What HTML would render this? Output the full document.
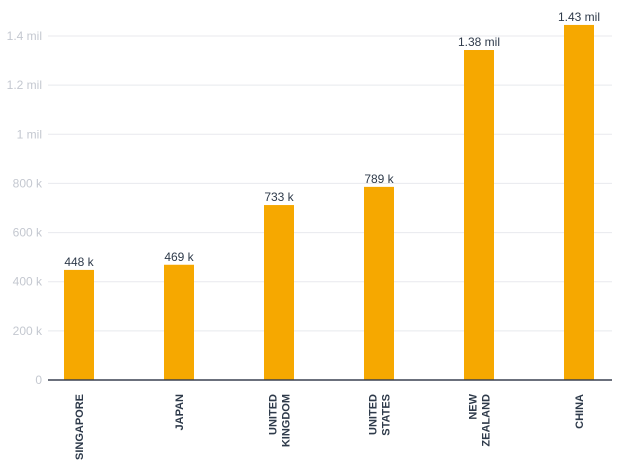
<!DOCTYPE html>
<html><head><meta charset="utf-8"><style>
html,body{margin:0;padding:0;background:#fff;}
svg{display:block;font-family:"Liberation Sans",sans-serif;}
</style></head><body>
<svg id="chart" width="625" height="468"></svg>
<script>
const categories = [["SINGAPORE"],["JAPAN"],["UNITED","KINGDOM"],["UNITED","STATES"],["NEW","ZEALAND"],["CHINA"]];
const values = [448000, 469000, 712000, 786000, 1343000, 1445000];
const valueLabels = ["448 k","469 k","733 k","789 k","1.38 mil","1.43 mil"];
const tickValues = [0,200000,400000,600000,800000,1000000,1200000,1400000];
const tickLabels = ["0","200 k","400 k","600 k","800 k","1 mil","1.2 mil","1.4 mil"];

const NS="http://www.w3.org/2000/svg";
const svg=document.getElementById('chart');
const y0=380, pxPer=344/1400000;
function yScale(v){return y0 - v*pxPer;}
function xScale(i){return 79 + i*100;}
function mk(tag,attrs,parent){const e=document.createElementNS(NS,tag);for(const k in attrs)e.setAttribute(k,attrs[k]);(parent||svg).appendChild(e);return e;}

tickValues.forEach((t,i)=>{
  const y=yScale(t);
  if(t>0){
    const g=mk('line',{x1:48,x2:612,y1:y,y2:y,stroke:'#e8e9ee','stroke-width':1});
    
    
  }
  const tx=mk('text',{x:42,y:y+4,'text-anchor':'end','font-size':12,fill:'#c4c8d0'});
  tx.textContent=tickLabels[i];
  
  
});

values.forEach((v,i)=>{
  const cx=xScale(i), y=yScale(v);
  const r=mk('rect',{x:cx-15,y:y,width:30,height:y0-y,fill:'#f6a800'});
  
  
  const t=mk('text',{x:cx,y:y-4,'text-anchor':'middle','font-size':12,fill:'#2e3a4a'});
  t.textContent=valueLabels[i];
  
  
  const lines=categories[i];
  lines.forEach((ln,j)=>{
    const off=(j-(lines.length-1)/2)*13;
    const lx=cx+off+4;
    const c=mk('text',{x:lx,y:394,'text-anchor':'end','font-size':11,'font-weight':'bold',fill:'#2e3a4a',transform:`rotate(-90 ${lx} 394)`});
    c.textContent=ln;
    
    
  });
});

const ax=mk('line',{x1:48,x2:612,y1:y0,y2:y0,stroke:'#3a4150','stroke-width':1.5});


</script>
</body></html>
